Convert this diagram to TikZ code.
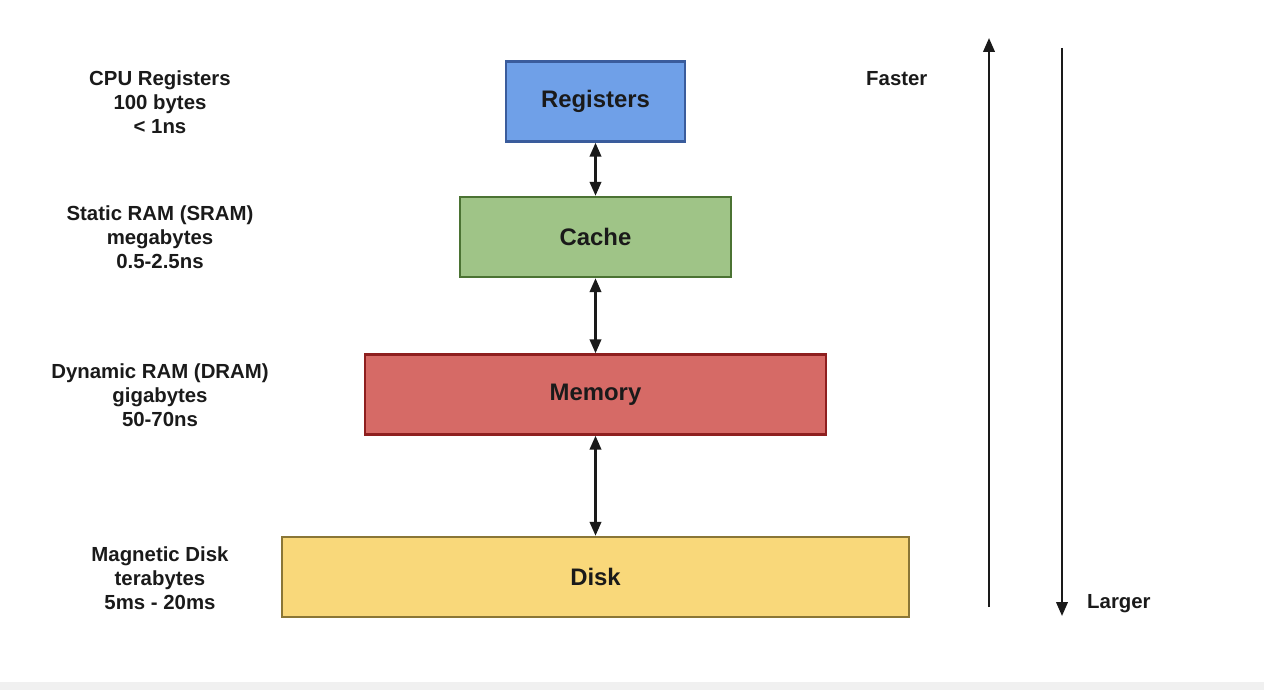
\documentclass[tikz,border=0pt]{standalone}
\usepackage{fontspec}
\setmainfont{Liberation Sans}
\usetikzlibrary{arrows.meta}
\definecolor{regfill}{HTML}{6FA0E8}
\definecolor{regline}{HTML}{3A5C9C}
\definecolor{cachefill}{HTML}{9FC487}
\definecolor{cacheline}{HTML}{4B7333}
\definecolor{memfill}{HTML}{D66A66}
\definecolor{memline}{HTML}{8E1F1F}
\definecolor{diskfill}{HTML}{F9D87A}
\definecolor{diskline}{HTML}{8A7636}
\definecolor{inkblack}{HTML}{1A1A1A}
\definecolor{stripgray}{HTML}{F0F0F0}
\begin{document}
\begin{tikzpicture}[x=0.02cm,y=0.02cm,
  level/.style={draw=#1line,fill=#1fill,line width=1.4pt,minimum height=80*0.02cm,
    inner sep=0pt,font=\fontsize{13.6}{16}\selectfont\bfseries,text=inkblack},
  info/.style={align=center,font=\fontsize{11.6}{13.6}\selectfont\bfseries,text=inkblack},
  link/.style={{Triangle[length=2.8mm,width=2.3mm]}-{Triangle[length=2.8mm,width=2.3mm]},line width=1.4pt,draw=inkblack},
  trend/.style={-{Triangle[length=2.8mm,width=2.3mm]},line width=1.3pt,draw=inkblack}]
\useasboundingbox (0,0) rectangle (1264,690);
\fill[stripgray] (0,0) rectangle (1264,8);
% memory levels
\node[level=reg,minimum width=179*0.02cm] (reg) at (595.5,588.5) {Registers};
\node[level=cache,minimum width=271*0.02cm] (cache) at (595.5,453) {Cache};
\node[level=mem,minimum width=461*0.02cm] (mem) at (595.5,295.5) {Memory};
\node[level=disk,minimum width=627*0.02cm] (disk) at (595.5,113) {Disk};
\draw[link] (reg.south) -- (cache.north);
\draw[link] (cache.south) -- (mem.north);
\draw[link] (mem.south) -- (disk.north);
% technology, size, access time
\node[info] (regtxt) at (160,588) {CPU Registers\\100 bytes\\< 1ns};
\node[info] (cachetxt) at (160,453) {Static RAM (SRAM)\\megabytes\\0.5-2.5ns};
\node[info] (memtxt) at (160,295) {Dynamic RAM (DRAM)\\gigabytes\\50-70ns};
\node[info] (disktxt) at (160,112) {Magnetic Disk\\terabytes\\5ms - 20ms};
% speed and size trends
\coordinate (upstart) at (989,83); \coordinate (upend) at (989,652);
\coordinate (downstart) at (1062,642); \coordinate (downend) at (1062,74);
\draw[trend] (upstart) -- (upend);
\draw[trend] (downstart) -- (downend);
\node[info,anchor=west] (faster) at (860,611) {Faster};
\node[info,anchor=west] (larger) at (1081,86) {Larger};
\end{tikzpicture}
\end{document}
